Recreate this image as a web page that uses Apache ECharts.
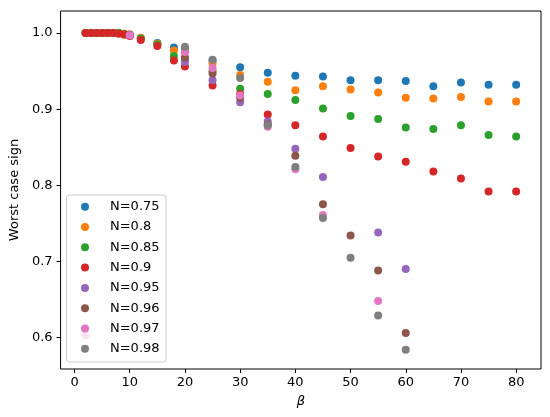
<!DOCTYPE html>
<html>
<head>
<meta charset="utf-8">
<script src="https://cdn.jsdelivr.net/npm/echarts@6/dist/echarts.min.js"></script>
<style>
html, body { margin: 0; padding: 0; background: #fff; }
#main { width: 550px; height: 417px; }
</style>
</head>
<body>
<div id="main"></div>
<script>
// beta values shared by every series (null = no point at that beta)
var beta = [2, 3, 4, 5, 6, 7, 8, 9, 10, 12, 15, 18, 20, 25, 30, 35, 40, 45, 50, 55, 60, 65, 70, 75, 80];

var n075 = [1.0, 1.0, 1.0, 1.0, 1.0, 1.0, 1.0, 0.999, 0.998, 0.993, 0.987, 0.981, 0.978, 0.964, 0.955, 0.948, 0.944, 0.943, 0.938, 0.938, 0.937, 0.930, 0.935, 0.932, 0.932];
var n080 = [1.0, 1.0, 1.0, 1.0, 1.0, 1.0, 1.0, 0.999, 0.998, 0.994, 0.986, 0.977, 0.975, 0.960, 0.945, 0.936, 0.925, 0.930, 0.926, 0.922, 0.915, 0.914, 0.916, 0.910, 0.910];
var n085 = [1.0, 1.0, 1.0, 1.0, 1.0, 1.0, 1.0, 0.998, 0.997, 0.993, 0.985, 0.970, 0.966, 0.950, 0.927, 0.920, 0.912, 0.901, 0.891, 0.887, 0.876, 0.874, 0.879, 0.866, 0.864];
var n090 = [1.0, 1.0, 1.0, 1.0, 1.0, 1.0, 0.999, 0.998, 0.996, 0.991, 0.983, 0.964, 0.956, 0.931, 0.920, 0.893, 0.879, 0.864, 0.849, 0.838, 0.831, 0.818, 0.809, 0.792, 0.792];
var n095 = [null, null, null, null, null, null, null, null, 0.997, null, null, null, 0.962, 0.938, 0.909, 0.884, 0.848, 0.811, null, 0.738, 0.690, null, null, null, null];
var n096 = [null, null, null, null, null, null, null, null, 0.997, null, null, null, 0.968, 0.947, 0.915, 0.880, 0.839, 0.775, 0.734, 0.688, 0.606, null, null, null, null];
var n097 = [0.603, null, null, null, null, null, null, null, 0.997, null, null, null, 0.975, 0.954, 0.918, 0.877, 0.821, 0.761, null, 0.648, null, null, null, null, null];
var n098 = [null, null, null, null, null, null, null, null, null, null, null, null, 0.982, 0.965, 0.941, 0.879, 0.824, 0.757, 0.705, 0.629, 0.584, null, null, null, null];

var names = ['N=0.75', 'N=0.8', 'N=0.85', 'N=0.9', 'N=0.95', 'N=0.96', 'N=0.97', 'N=0.98'];
var values = [n075, n080, n085, n090, n095, n096, n097, n098];
var colors = ['#1f77b4', '#ff7f0e', '#2ca02c', '#d62728', '#9467bd', '#8c564b', '#e377c2', '#7f7f7f'];

var xTicks = [0, 10, 20, 30, 40, 50, 60, 70, 80];
var yTicks = [0.6, 0.7, 0.8, 0.9, 1.0];

function pairs(vals) {
	var out = [];
	for (var i = 0; i < beta.length; i++) {
		if (vals[i] !== null) out.push([beta[i], vals[i]]);
	}
	return out;
}

var series = [];
for (var k = 0; k < names.length; k++) {
	series.push({
		name: names[k],
		type: 'scatter',
		symbol: 'circle',
		symbolSize: 8,
		itemStyle: { color: colors[k], opacity: 1 },
		data: pairs(values[k])
	});
}

var font = 'DejaVu Sans';
var chart = echarts.init(document.getElementById('main'));
var option = {
	animation: false,
	color: colors,
	grid: {
		left: 59, right: 9, top: 11, bottom: 48,
		show: true, borderColor: '#000', borderWidth: 1, backgroundColor: '#fff'
	},
	// legend frame drawn separately (semi-transparent, like matplotlib's)
	graphic: [{
		type: 'rect',
		z: 3,
		shape: { x: 66.5, y: 195, width: 99.5, height: 167, r: 3 },
		style: { fill: 'rgba(255,255,255,0.8)', stroke: '#cccccc', lineWidth: 1 }
	}],
	legend: {
		orient: 'vertical',
		left: 81, top: 199.7,
		icon: 'circle',
		itemWidth: 40, itemHeight: 8,
		itemGap: 6.3,
		padding: 0,
		textStyle: { fontFamily: font, fontSize: 13, color: '#000', lineHeight: 14 },
		data: names
	},
	xAxis: {
		type: 'value',
		min: -2.53, max: 84.5,
		name: 'β',
		nameLocation: 'middle',
		nameGap: 26,
		nameTextStyle: { fontFamily: font, fontSize: 13, fontStyle: 'italic', color: '#000' },
		axisLine: { show: false, onZero: false },
		axisTick: { show: true, inside: false, length: 4, lineStyle: { color: '#000' }, customValues: xTicks },
		axisLabel: { fontFamily: font, fontSize: 13, color: '#000', margin: 7, customValues: xTicks },
		splitLine: { show: false }
	},
	yAxis: {
		type: 'value',
		min: 0.5587, max: 1.029,
		name: 'Worst case sign',
		nameLocation: 'middle',
		nameGap: 39,
		nameTextStyle: { fontFamily: font, fontSize: 13, color: '#000' },
		axisLine: { show: false, onZero: false },
		axisTick: { show: true, inside: false, length: 4, lineStyle: { color: '#000' }, customValues: yTicks },
		axisLabel: {
			fontFamily: font, fontSize: 13, color: '#000', margin: 8, customValues: yTicks,
			formatter: function (v) { return v.toFixed(1); }
		},
		splitLine: { show: false }
	},
	series: series
};
chart.setOption(option);
</script>
</body>
</html>
